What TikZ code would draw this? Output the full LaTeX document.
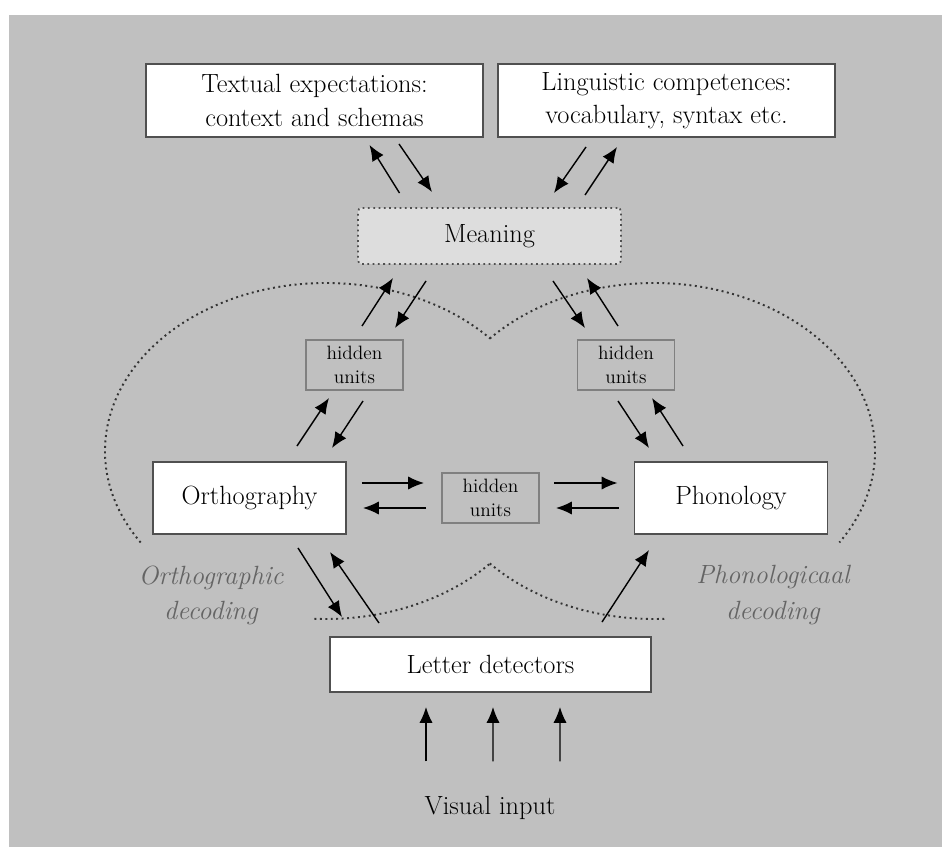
\documentclass[tikz,border=0pt]{standalone}
\usepackage{tikz}
\usetikzlibrary{arrows.meta}
\definecolor{bggray}{RGB}{192,192,192}
\definecolor{meangray}{RGB}{221,221,221}
\definecolor{boxline}{RGB}{80,80,80}
\definecolor{hidline}{RGB}{128,128,128}
\definecolor{decgray}{RGB}{100,100,100}

\begin{document}
\begin{tikzpicture}[x=0.02cm, y=0.02cm,
	every node/.style={font=\fontsize{15}{19}\selectfont, inner sep=0pt, outer sep=0pt},
	wbox/.style={draw=boxline, fill=white, line width=0.8pt, align=center},
	hid/.style={draw=hidline, fill=bggray, line width=1.1pt, align=center, minimum width=1.94cm, minimum height=1cm, font=\fontsize{11}{13.7}\selectfont},
	arr/.style={-{Latex[length=9pt,width=7.5pt]}, line width=0.8pt},
	dots/.style={dotted, line width=1.1pt, black!80}]
	\useasboundingbox (0,0) rectangle (942,849);
	\fill[bggray] (9,2) rectangle (942,834);
	\draw[dots] (326,398) ++(213:221 and 168) arc[start angle=213, end angle=42, x radius=221, y radius=168];
	\draw[dots] (326,398) ++(267:221 and 168) arc[start angle=267, end angle=318, x radius=221, y radius=168];
	\draw[dots] (654,398) ++(138:221 and 168) arc[start angle=138, end angle=-33, x radius=221, y radius=168];
	\draw[dots] (654,398) ++(222:221 and 168) arc[start angle=222, end angle=273, x radius=221, y radius=168];
	\node[wbox, minimum width=6.74cm, minimum height=1.46cm] (txt) at (314.5,748.5) {Textual expectations:\\context and schemas};
	\node[wbox, minimum width=6.74cm, minimum height=1.46cm] (ling) at (666.5,748.5) {Linguistic competences:\\vocabulary, syntax etc.};
	\node[draw=boxline, dotted, fill=meangray, rounded corners=2pt, line width=1pt, minimum width=5.26cm, minimum height=1.12cm] (mean) at (489.5,613) {Meaning};
	\node[hid] (hidL) at (354.5,484) {hidden\\units};
	\node[hid] (hidR) at (626,484) {hidden\\units};
	\node[hid] (hidM) at (490.5,351) {hidden\\units};
	\node[wbox, minimum width=3.86cm, minimum height=1.44cm] (orth) at (249.5,351) {Orthography};
	\node[wbox, minimum width=3.86cm, minimum height=1.44cm] (phon) at (731,351) {Phonology};
	\node[wbox, minimum width=6.42cm, minimum height=1.1cm] (let) at (490.5,184.5) {Letter detectors};
	\node (vis) at (490,41) {Visual input};
	\node[decgray, font=\itshape\fontsize{15}{20}\selectfont, align=center] (odec) at (211,254) {Orthographic\\decoding};
	\node[decgray, font=\itshape\fontsize{15}{20}\selectfont, align=center] (pdec) at (773,254) {Phonologicaal\\decoding};
	\draw[arr] ([shift={(-90,15)}]mean.north) -- ([shift={(55,-8)}]txt.south);
	\draw[arr] ([shift={(84.5,-7)}]txt.south) -- ([shift={(-57.5,16)}]mean.north);
	\draw[arr] ([shift={(-80.5,-10)}]ling.south) -- ([shift={(64.5,15)}]mean.north);
	\draw[arr] ([shift={(95.5,13)}]mean.north) -- ([shift={(-49.5,-10)}]ling.south);
	\draw[arr] ([shift={(7.5,14)}]hidL.north) -- ([shift={(-96.5,-14)}]mean.south);
	\draw[arr] ([shift={(-63.5,-17)}]mean.south) -- ([shift={(40.5,12)}]hidL.north);
	\draw[arr] ([shift={(63.5,-17)}]mean.south) -- ([shift={(-41,12)}]hidR.north);
	\draw[arr] ([shift={(-8,14)}]hidR.north) -- ([shift={(97.5,-14)}]mean.south);
	\draw[arr] ([shift={(47.5,16)}]orth.north) -- ([shift={(-25.5,-8)}]hidL.south);
	\draw[arr] ([shift={(8.5,-11)}]hidL.south) -- ([shift={(82.5,14)}]orth.north);
	\draw[arr] ([shift={(-8,-11)}]hidR.south) -- ([shift={(-82,14)}]phon.north);
	\draw[arr] ([shift={(-48,16)}]phon.north) -- ([shift={(26,-8)}]hidR.south);
	\draw[arr] ([shift={(16,15)}]orth.east) -- ([shift={(-18,15)}]hidM.west);
	\draw[arr] ([shift={(-16,-10)}]hidM.west) -- ([shift={(17,-10)}]orth.east);
	\draw[arr] ([shift={(15,15)}]hidM.east) -- ([shift={(-17,15)}]phon.west);
	\draw[arr] ([shift={(-16,-10)}]phon.west) -- ([shift={(17,-10)}]hidM.east);
	\draw[arr] ([shift={(48.5,-14)}]orth.south) -- ([shift={(-148.5,20)}]let.north);
	\draw[arr] ([shift={(-111.5,14)}]let.north) -- ([shift={(80.5,-18)}]orth.south);
	\draw[arr] ([shift={(111.5,15)}]let.north) -- ([shift={(-82,-16)}]phon.south);
	\foreach \dx in {-64,3,70}
		\draw[arr] ([shift={(\dx,35)}]vis.north) -- ([shift={(\dx-0.5,-15)}]let.south);
\end{tikzpicture}
\end{document}
